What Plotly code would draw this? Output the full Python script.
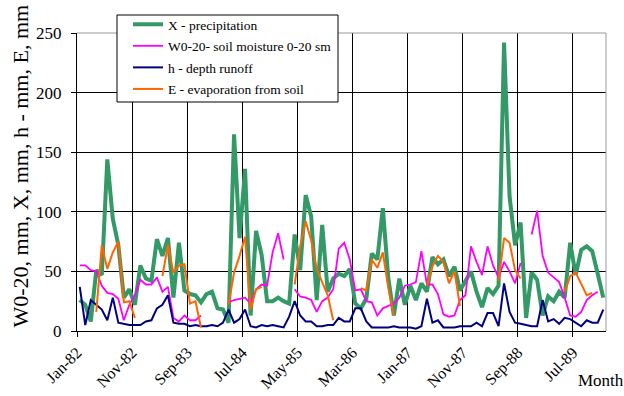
import plotly.graph_objects as go

tick_labels = ["Jan-82", "Nov-82", "Sep-83", "Jul-84", "May-85",
               "Mar-86", "Jan-87", "Nov-87", "Sep-88", "Jul-89"]

months = list(range(96))  # Jan-82 .. Dec-89

precip = [26, 22, 8, 51, 47, 144, 94, 72, 28, 35,
          22, 55, 44, 42, 77, 63, 78, 28, 74, 34,
          31, 30, 24, 31, 33, 19, 18, 7, 165, 78,
          136, 13, 84, 64, 25, 25, 28, 25, 23, 81,
          51, 114, 96, 26, 89, 33, 44, 48, 46, 52,
          23, 19, 27, 65, 60, 103, 44, 13, 44, 22,
          38, 26, 40, 33, 62, 56, 60, 46, 54, 34,
          42, 50, 33, 20, 36, 31, 38, 242, 113, 72,
          91, 11, 49, 43, 13, 29, 25, 33, 28, 74,
          47, 68, 71, 67, 48, 28]

moisture = [55, 55, 51, 50, 38, 32, 31, 27, 9, 22,
            30, 43, 39, 39, 45, 33, 37, 11, 8, 13,
            9, 9, 13, None, None, None, None, 24, 26, 27,
            28, 23, 35, 39, 38, 66, 82, 60, None, 35,
            29, 28, 26, 16, 25, 28, 35, 69, 74, 60,
            34, 35, 25, 24, 13, 19, 21, 23, 28, 38,
            39, 41, 67, 39, 39, 31, 14, 12, 13, 26,
            30, 71, 58, 47, 71, 55, 45, 58, 50, 40,
            57, None, 81, 101, 63, 49, 45, 41, 28, 13,
            12, 16, 26, 30, 33, None]

runoff = [37, 5, 26, 22, 18, 9, 28, 7, 6, 5,
          5, 5, 8, 9, 19, 22, 30, 7, 6, 6,
          4, 5, 4, 4, 5, 4, 7, 18, 7, 10,
          18, 4, 3, 5, 4, 5, 4, 3, 12, 25,
          13, 8, 8, 4, 4, 5, 5, 11, 8, 8,
          19, 19, 8, 3, 3, 3, 3, 4, 3, 3,
          3, 2, 4, 27, 7, 9, 3, 3, 3, 4,
          4, 4, 7, 4, 15, 15, 4, 40, 16, 7,
          6, 5, 4, 4, 26, 8, 10, 6, 11, 10,
          7, 4, 9, 7, 7, 18]

evap = [None, None, None, 16, 72, 52, 66, 75, 24, 25,
        11, None, None, None, None, 46, 72, 49, 55, 56,
        23, 25, 3, None, None, None, None, 22, 49, 63,
        79, 18, 35, 37, None, None, None, None, None, 39,
        71, 92, 76, 52, 41, 30, 9, None, None, None,
        None, 36, 34, 60, 53, 66, 36, 13, None, None,
        None, None, None, 38, 54, 63, 58, 40, 50, 21,
        None, None, None, None, None, None, 42, 78, 74, 51,
        44, None, None, None, None, None, None, None, 33, 46,
        49, 40, 30, 32, None, None]

series = [
    ("X - precipitation", precip, "#339966", 4.0),
    ("W0-20- soil moisture 0-20 sm", moisture, "#FF00FF", 1.8),
    ("h - depth runoff", runoff, "#000080", 2.0),
    ("E - evaporation from soil", evap, "#FF6600", 2.0),
]

FONT = "Liberation Serif"

fig = go.Figure()
for i, (name, vals, col, w) in enumerate(series):
    fig.add_trace(go.Scatter(x=months, y=vals, mode="lines", name=name,
                             line=dict(color=col, width=w),
                             connectgaps=False, legendgroup=f"g{i}"))

L, R, T, B = 77, 18, 33, 65
W, H = 624, 396
pw, ph = W - L - R, H - T - B


def px(x):
    return (x - L) / pw


def py(y):
    return (H - B - y) / ph


fig.update_layout(
    width=W, height=H,
    margin=dict(l=L, r=R, t=T, b=B, pad=0, autoexpand=False),
    paper_bgcolor="white", plot_bgcolor="white",
    font=dict(family=FONT, color="black"),
    showlegend=True,
    legend=dict(x=px(128), y=py(9), xanchor="left", yanchor="top",
                bgcolor="rgba(0,0,0,0)", borderwidth=0,
                font=dict(family=FONT, size=13.5, color="black"),
                tracegroupgap=1),
    xaxis=dict(range=[-0.5, 95.5], automargin=False,
               tickmode="array",
               tickvals=[-0.5 + 10 * k for k in range(len(tick_labels))],
               ticktext=tick_labels,
               tickangle=-45,
               ticks="outside", ticklen=5, tickcolor="black",
               showgrid=True, gridcolor="black", gridwidth=1,
               showline=True, linecolor="black", linewidth=1,
               zeroline=False,
               tickfont=dict(family=FONT, size=16, color="black")),
    yaxis=dict(range=[0, 250], dtick=50, tick0=0, automargin=False,
               ticks="outside", ticklen=5, tickcolor="black",
               showgrid=True, gridcolor="black", gridwidth=1,
               showline=True, linecolor="black", linewidth=1,
               zeroline=False, ticklabelstandoff=6,
               tickfont=dict(family=FONT, size=17, color="black")),
    shapes=[
        # top and right borders of plot area (gray)
        dict(type="line", xref="paper", yref="paper", x0=0, x1=1, y0=1, y1=1,
             line=dict(color="#999999", width=1), layer="above"),
        dict(type="line", xref="paper", yref="paper", x0=1, x1=1, y0=0, y1=1,
             line=dict(color="#999999", width=1), layer="above"),
        # legend box
        dict(type="rect", xref="paper", yref="paper",
             x0=px(117), x1=px(338), y0=py(102), y1=py(15),
             fillcolor="white", line=dict(color="black", width=1),
             layer="above"),
    ],
    annotations=[
        dict(text="W0-20, mm, X, mm, h - mm, E, mm", textangle=-90,
             xref="paper", yref="paper", x=px(19.5), y=py(166),
             xanchor="center", yanchor="middle", showarrow=False,
             font=dict(family=FONT, size=22, color="black")),
        dict(text="Month", xref="paper", yref="paper",
             x=px(601), y=py(380), xanchor="center", yanchor="middle",
             showarrow=False,
             font=dict(family=FONT, size=17, color="black")),
    ],
)

fig.write_html(
    "out.html",
    config={"displayModeBar": False},
    post_script="document.body.style.margin='0';"
                "document.body.style.overflow='hidden';",
)
